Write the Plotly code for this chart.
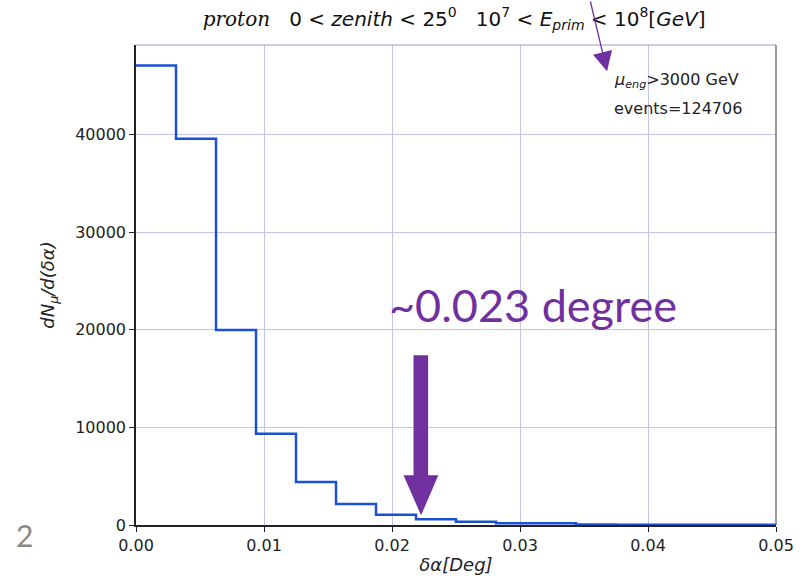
import numpy as np
import plotly.graph_objects as go

# histogram data (16 equal bins from 0 to 0.05 deg)
bin_lo, bin_hi, n_bins = 0.0, 0.05, 16
counts = [47100, 39600, 20000, 9350, 4400, 2150, 1050, 600, 330, 180, 180, 40, 30, 30, 30, 30]
x_ticks = [0.00, 0.01, 0.02, 0.03, 0.04, 0.05]
x_tick_text = ["0.00", "0.01", "0.02", "0.03", "0.04", "0.05"]
y_ticks = [0, 10000, 20000, 30000, 40000]
y_tick_text = ["0", "10000", "20000", "30000", "40000"]

edges = np.linspace(bin_lo, bin_hi, n_bins + 1)
xs = list(edges)
ys = list(counts) + [counts[-1]]

fig = go.Figure()
fig.add_trace(go.Scatter(x=xs, y=ys, mode="lines", line=dict(shape="hv", color="#1a4fd6", width=2.5),
                         showlegend=False, hoverinfo="skip"))

grid = "#c4c4e6"
fig.update_layout(
    width=808, height=586,
    margin=dict(l=136, r=32, t=45, b=61),
    paper_bgcolor="white", plot_bgcolor="white",
    font=dict(family="DejaVu Sans", size=15, color="#222"),
    title=dict(
        text="<span style='font-family:DejaVu Serif'><i>proton</i></span>   0 < <i>zenith</i> < 25<sup>0</sup>   10<sup>7</sup> < <i>E<sub>prim</sub></i> < 10<sup>8</sup>[<i>GeV</i>]",
        x=0.562, xanchor="center", y=0.968, yanchor="middle", font=dict(size=20, color="#111")),
    xaxis=dict(range=[0, 0.05], tickvals=x_ticks, ticktext=x_tick_text, showgrid=True, gridcolor=grid,
               gridwidth=1, zeroline=False, showline=True, linecolor="#222", linewidth=1.5, mirror=False,
               ticks="outside", ticklen=5, tickcolor="#222", tickfont=dict(size=16),
               title=dict(text="<i>δα[Deg]</i>", font=dict(size=18), standoff=4)),
    yaxis=dict(range=[0, 49200], tickvals=y_ticks, ticktext=y_tick_text, showgrid=True, gridcolor=grid,
               gridwidth=1, zeroline=False, showline=True, linecolor="#222", linewidth=1.5,
               ticks="outside", ticklen=5, tickcolor="#222", tickfont=dict(size=16),
               title=dict(text="<i>dN<sub>μ</sub>/d(δα)</i>", font=dict(size=18), standoff=16)),
    shapes=[
        # top & right frame
        dict(type="line", xref="paper", yref="paper", x0=0, x1=1, y0=1, y1=1, line=dict(color="#9a9acc", width=1.2)),
        dict(type="line", xref="paper", yref="paper", x0=1, x1=1, y0=0, y1=1, line=dict(color="#555", width=1.2)),
        # thick purple arrow
        dict(type="path", xref="x", yref="y",
             path="M 0.02168 17400 L 0.02282 17400 L 0.02282 5100 L 0.02362 5100 L 0.02227 1000 L 0.02090 5100 L 0.02168 5100 Z",
             fillcolor="#7030a0", line=dict(color="#7030a0", width=0)),
    ],
    annotations=[
        dict(text="<i>μ<sub>eng</sub></i>>3000 GeV", xref="paper", yref="paper", x=0.744, y=0.925,
             xanchor="left", yanchor="middle", showarrow=False, font=dict(size=16, color="#222")),
        dict(text="events=124706", xref="paper", yref="paper", x=0.744, y=0.868,
             xanchor="left", yanchor="middle", showarrow=False, font=dict(size=16, color="#222")),
        dict(text="~0.023 degree", xref="paper", yref="paper", x=0.621, y=0.458,
             xanchor="center", yanchor="middle", showarrow=False,
             font=dict(family="Lato", size=45, color="#7030a0")),
        dict(x=0.0368, y=46500, xref="x", yref="y", ax=-17, ay=-76, showarrow=True,
             arrowhead=2, arrowsize=3, arrowwidth=1.3, arrowcolor="#7030a0", text=""),
        dict(text="2", xref="paper", yref="paper", x=-0.175, y=-0.02, xanchor="center", yanchor="middle",
             showarrow=False, font=dict(family="Lato", size=30, color="#8a8a8a")),
    ],
)

fig.write_html("out.html")
